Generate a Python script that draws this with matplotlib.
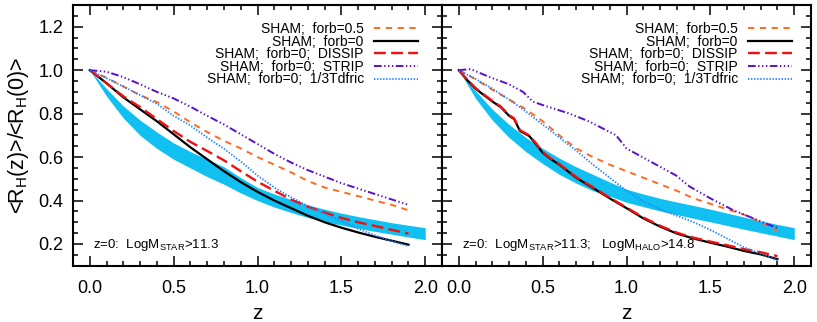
import numpy as np
import matplotlib
matplotlib.use("Agg")
import matplotlib.pyplot as plt
from matplotlib.ticker import MultipleLocator

plt.rcParams['font.family'] = ['Liberation Sans', 'DejaVu Sans']
plt.rcParams['mathtext.fontset'] = 'custom'
plt.rcParams['mathtext.rm'] = 'Liberation Sans'
plt.rcParams['lines.scale_dashes'] = False

# ---- data ----
z_band = [0.0, 0.1, 0.2, 0.3, 0.4, 0.5, 0.6, 0.7, 0.8, 0.9, 1.0,
          1.1, 1.2, 1.3, 1.4, 1.5, 1.6, 1.7, 1.8, 1.9, 2.0]
band_hi_l = [1.0, 0.915, 0.835, 0.77, 0.715, 0.665, 0.625, 0.59, 0.555, 0.505, 0.46,
             0.43, 0.405, 0.38, 0.36, 0.342, 0.326, 0.312, 0.298, 0.286, 0.275]
band_lo_l = [1.0, 0.88, 0.78, 0.70, 0.64, 0.59, 0.55, 0.51, 0.475, 0.435, 0.40,
             0.37, 0.345, 0.322, 0.303, 0.287, 0.272, 0.258, 0.245, 0.232, 0.22]
band_hi_r = [1.0, 0.905, 0.82, 0.75, 0.69, 0.64, 0.595, 0.555, 0.52, 0.485, 0.452,
             0.43, 0.41, 0.393, 0.377, 0.36, 0.342, 0.324, 0.306, 0.29, 0.275]
band_lo_r = [1.0, 0.87, 0.77, 0.69, 0.625, 0.57, 0.52, 0.48, 0.445, 0.42, 0.392,
             0.372, 0.352, 0.335, 0.318, 0.302, 0.285, 0.268, 0.252, 0.236, 0.22]

z_left = [0.0, 0.1, 0.2, 0.3, 0.4, 0.5, 0.6, 0.7, 0.8, 0.9, 1.0,
          1.1, 1.2, 1.3, 1.4, 1.5, 1.6, 1.7, 1.8, 1.9]
left_forb05 = [1.0, 0.965, 0.925, 0.885, 0.853, 0.81, 0.76, 0.715, 0.675, 0.64, 0.60,
               0.565, 0.53, 0.49, 0.46, 0.44, 0.42, 0.40, 0.38, 0.355]
left_forb0 = [1.0, 0.94, 0.875, 0.82, 0.765, 0.705, 0.645, 0.59, 0.535, 0.485, 0.44,
              0.40, 0.365, 0.33, 0.30, 0.275, 0.253, 0.233, 0.215, 0.197]
left_dissip = [1.0, 0.94, 0.88, 0.83, 0.775, 0.72, 0.67, 0.628, 0.585, 0.535, 0.487,
               0.445, 0.405, 0.372, 0.345, 0.32, 0.30, 0.283, 0.265, 0.248]
left_strip = [1.0, 0.993, 0.968, 0.935, 0.90, 0.87, 0.832, 0.79, 0.75, 0.705, 0.66,
              0.615, 0.575, 0.54, 0.51, 0.48, 0.455, 0.43, 0.405, 0.38]
left_tdfric = [1.0, 0.963, 0.925, 0.885, 0.845, 0.79, 0.745, 0.69, 0.638, 0.58, 0.515,
               0.46, 0.415, 0.375, 0.34, 0.305, 0.27, 0.24, 0.213, 0.19]

z_right = [0.0, 0.1, 0.2, 0.3, 0.4, 0.5, 0.6, 0.7, 0.8, 0.9, 1.0,
           1.1, 1.2, 1.3, 1.4, 1.5, 1.6, 1.7, 1.8, 1.9]
right_forb05 = [1.0, 0.958, 0.91, 0.865, 0.82, 0.765, 0.70, 0.64, 0.60, 0.565, 0.535,
                0.505, 0.475, 0.445, 0.41, 0.385, 0.36, 0.335, 0.30, 0.26]
right_tdfric = [1.0, 0.96, 0.915, 0.865, 0.81, 0.75, 0.69, 0.63, 0.565, 0.505, 0.445,
                0.395, 0.36, 0.33, 0.30, 0.265, 0.225, 0.185, 0.155, 0.125]

z_right_fine = [0.0, 0.05, 0.1, 0.15, 0.2, 0.25, 0.3, 0.33, 0.365, 0.42, 0.46, 0.5, 0.55,
                0.6, 0.7, 0.8, 0.9, 1.0, 1.1, 1.2, 1.3, 1.4, 1.5, 1.6, 1.7, 1.8, 1.9]
right_forb0 = [1.0, 0.955, 0.915, 0.885, 0.856, 0.83, 0.79, 0.775, 0.72, 0.697, 0.66, 0.62, 0.59,
               0.565, 0.505, 0.458, 0.41, 0.365, 0.318, 0.28, 0.248, 0.225, 0.206, 0.188, 0.168, 0.152, 0.13]
right_dissip = [1.0, 0.957, 0.918, 0.888, 0.859, 0.833, 0.793, 0.778, 0.724, 0.70, 0.664, 0.623, 0.593,
                0.568, 0.508, 0.461, 0.413, 0.368, 0.322, 0.284, 0.252, 0.229, 0.211, 0.194, 0.176, 0.162, 0.144]

z_strip_r = [0.0, 0.07, 0.185, 0.3, 0.383, 0.442, 0.502, 0.661, 0.78, 0.938, 1.0,
             1.058, 1.177, 1.296, 1.375, 1.5, 1.63, 1.75, 1.91]
right_strip = [1.0, 1.005, 0.968, 0.935, 0.90, 0.855, 0.839, 0.80, 0.763, 0.70, 0.64,
               0.615, 0.565, 0.515, 0.465, 0.41, 0.358, 0.32, 0.27]

labels = ['SHAM;  forb=0.5', 'SHAM;  forb=0', 'SHAM;  forb=0;  DISSIP',
          'SHAM;  forb=0;  STRIP', 'SHAM;  forb=0;  1/3Tdfric']
notes = [r'z=0:  LogM$_{\rm STAR}$>11.3',
         r'z=0:  LogM$_{\rm STAR}$>11.3;   LogM$_{\rm HALO}$>14.8']

# ---- styles ----
c_band = '#10C0F0'
styles = [dict(color='#FF6A20', lw=1.4, dashes=(4.5, 4.0)),
          dict(color='black', lw=1.6, linestyle='-'),
          dict(color='#F01010', lw=1.7, dashes=(8.5, 3.8)),
          dict(color='#5A10C8', lw=1.4, dashes=(5.5, 1.8, 1.0, 1.8, 1.0, 1.8, 1.0, 1.8)),
          dict(color='#2080FF', lw=1.3, dashes=(1.0, 1.2))]

W, H = 817, 322
fig = plt.figure(figsize=(W / 100, H / 100), dpi=100)
bottom = 1 - 265.7 / H
height = 260.7 / H
ax1 = fig.add_axes([73 / W, bottom, 369 / W, height])
ax2 = fig.add_axes([442 / W, bottom, 369 / W, height])

panels = [
    (ax1, band_lo_l, band_hi_l,
     [(z_left, left_forb05), (z_left, left_forb0), (z_left, left_dissip),
      (z_left, left_strip), (z_left, left_tdfric)], notes[0], 24),
    (ax2, band_lo_r, band_hi_r,
     [(z_right, right_forb05), (z_right_fine, right_forb0), (z_right_fine, right_dissip),
      (z_strip_r, right_strip), (z_right, right_tdfric)], notes[1], 19),
]

for ax, blo, bhi, curves, note, rpad in panels:
    ax.fill_between(z_band, blo, bhi, color=c_band, lw=0)
    handles = []
    for (zz, yy), st, lab in zip(curves, styles, labels):
        h, = ax.plot(zz, yy, label=lab, **st)
        handles.append(h)
    ax.set_xlim(-0.1, 2.1)
    ax.set_ylim(0.1, 1.3)
    ax.xaxis.set_major_locator(MultipleLocator(0.5))
    ax.xaxis.set_minor_locator(MultipleLocator(0.1))
    ax.yaxis.set_major_locator(MultipleLocator(0.2))
    ax.yaxis.set_minor_locator(MultipleLocator(0.05))
    ax.tick_params(which='both', direction='in', top=True, right=True, width=1.1)
    ax.tick_params(which='major', length=7, labelsize=13)
    ax.tick_params(which='minor', length=3.5)
    ax.tick_params(axis='x', pad=10)
    ax.tick_params(axis='y', pad=7)
    for sp in ax.spines.values():
        sp.set_linewidth(1.5)
    ax.xaxis.set_major_formatter(plt.FuncFormatter(lambda v, p: f'{v:.1f}'))
    ax.yaxis.set_major_formatter(plt.FuncFormatter(lambda v, p: f'{v:.1f}'))
    ax.set_xlabel('z', fontsize=15, labelpad=5)
    ax.legend(handles=handles, loc='upper right', frameon=False, markerfirst=False,
              fontsize=10, handlelength=3.2, handletextpad=0.7, labelspacing=-0.1,
              borderpad=0, borderaxespad=0,
              bbox_to_anchor=(1 - rpad / 369, 1 - 17 / 260.7))
    ax.text(0.053, 0.066, note, transform=ax.transAxes, fontsize=9.5, va='baseline')

ax2.tick_params(axis='y', labelleft=False)
ax1.set_ylabel(r'<R$_{\rm H}$(z)>/<R$_{\rm H}$(0)>', fontsize=15.5, labelpad=5)

fig.savefig('out.png', dpi=100)
